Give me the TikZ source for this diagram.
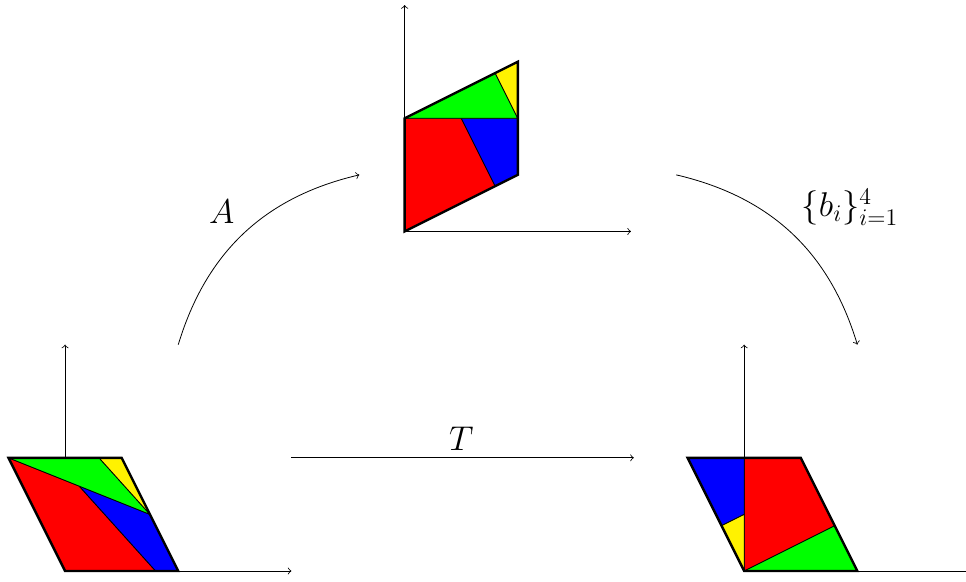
\documentclass[tikz,border=0pt]{standalone}
\begin{document}
\begin{tikzpicture}[
  axis/.style={->, thin},
  piece/.style={draw=black, thin, line join=round},
  outline/.style={draw=black, very thick, line join=miter},
  lbl/.style={font=\LARGE},
  maparrow/.style={->, thin}
]
\clip (-1.15,-0.18) rectangle (15.92,10.09);

% ---------- left: original parallelogram ----------
\begin{scope}
  \coordinate (L0) at (0,0);
  \draw[axis] (L0) -- (4,0);
  \draw[axis] (L0) -- (0,4);
  \filldraw[piece, fill=red]    (0,0) -- (-1,2) -- (0.25,1.5) -- (1.6,0) -- cycle;
  \filldraw[piece, fill=blue]   (0.25,1.5) -- (1.5,1) -- (2,0) -- (1.6,0) -- cycle;
  \filldraw[piece, fill=green]  (-1,2) -- (0.6,2) -- (1.5,1) -- cycle;
  \filldraw[piece, fill=yellow] (0.6,2) -- (1,2) -- (1.5,1) -- cycle;
  \draw[outline] (0,0) -- (2,0) -- (1,2) -- (-1,2) -- cycle;
\end{scope}

% ---------- middle: image under A ----------
\begin{scope}[shift={(6,6)}]
  \coordinate (M0) at (0,0);
  \draw[axis] (M0) -- (4,0);
  \draw[axis] (M0) -- (0,4);
  \filldraw[piece, fill=red]    (0,0) -- (0,2) -- (1,2) -- (1.6,0.8) -- cycle;
  \filldraw[piece, fill=blue]   (1,2) -- (2,2) -- (2,1) -- (1.6,0.8) -- cycle;
  \filldraw[piece, fill=green]  (0,2) -- (1.6,2.8) -- (2,2) -- cycle;
  \filldraw[piece, fill=yellow] (1.6,2.8) -- (2,3) -- (2,2) -- cycle;
  \draw[outline] (0,0) -- (2,1) -- (2,3) -- (0,2) -- cycle;
\end{scope}

% ---------- right: rearranged parallelogram ----------
\begin{scope}[shift={(12,0)}]
  \coordinate (R0) at (0,0);
  \draw[axis] (R0) -- (4,0);
  \draw[axis] (R0) -- (0,4);
  \filldraw[piece, fill=red]    (0,0) -- (0,2) -- (1,2) -- (1.6,0.8) -- cycle;
  \filldraw[piece, fill=green]  (0,0) -- (1.6,0.8) -- (2,0) -- cycle;
  \filldraw[piece, fill=blue]   (-1,2) -- (0,2) -- (0,1) -- (-0.4,0.8) -- cycle;
  \filldraw[piece, fill=yellow] (-0.4,0.8) -- (0,1) -- (0,0) -- cycle;
  \draw[outline] (0,0) -- (2,0) -- (1,2) -- (-1,2) -- cycle;
\end{scope}

% ---------- arrows ----------
\coordinate (a1) at (2,4);
\coordinate (a2) at (5.2,7);
\coordinate (b1) at (10.8,7);
\coordinate (b2) at (14,4);
\coordinate (t1) at (4,2);
\coordinate (t2) at (10.05,2);

\draw[maparrow] (a1) to[bend left=30] (a2);
\draw[maparrow] (b1) to[bend left=30] (b2);
\draw[maparrow] (t1) -- (t2);

\node[lbl] (labA) at (2.77,6.34) {$A$};
\node[lbl] (labB) at (13.87,6.43) {$\{b_i\}_{i=1}^4$};
\node[lbl, above] (labT) at (7,2) {$T$};
\end{tikzpicture}
\end{document}
